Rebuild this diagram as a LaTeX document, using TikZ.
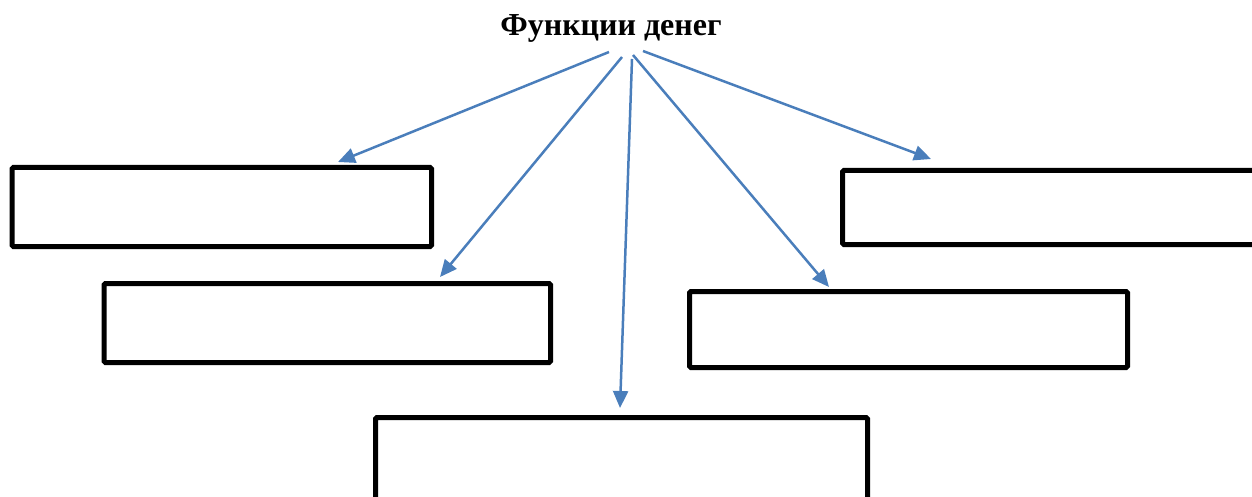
\documentclass[tikz,border=0pt]{standalone}
\usepackage{fontspec}
\setmainfont{Liberation Serif}
\usetikzlibrary{arrows.meta}
\definecolor{arrowblue}{RGB}{74,126,187}
\begin{document}
\begin{tikzpicture}[x=1pt,y=-1pt,
  box/.style={draw=black,line width=5pt,rounded corners=1.5pt,inner sep=0pt,fill=none},
  conn/.style={draw=arrowblue,line width=2.5pt,-{Triangle[length=17pt,width=15pt]}},
  title/.style={font=\bfseries\fontsize{32}{36}\selectfont,inner sep=0pt,anchor=base}]
\useasboundingbox (0,0) rectangle (1252,497);
\node[title] (t) at (611,36) {Функции денег};
\node[box,minimum width=419.5pt,minimum height=79pt] (b1) at (221.75,207) {};
\node[box,minimum width=446.5pt,minimum height=79pt] (b2) at (327.25,323) {};
\node[box,minimum width=492pt,minimum height=102.5pt] (b3) at (621.5,468.75) {};
\node[box,minimum width=438pt,minimum height=76pt] (b4) at (908.5,329.5) {};
\node[box,minimum width=427.5pt,minimum height=74pt] (b5) at (1056.25,207.5) {};
\coordinate (s1) at (609,52);
\coordinate (s2) at (622,57);
\coordinate (s3) at (632,59);
\coordinate (s4) at (633,55);
\coordinate (s5) at (643,51);
\coordinate (e1) at (338,162);
\coordinate (e2) at (440,277);
\coordinate (e3) at (620,408);
\coordinate (e4) at (829,287);
\coordinate (e5) at (931,159);
\draw[conn] (s1) -- (e1);
\draw[conn] (s2) -- (e2);
\draw[conn] (s3) -- (e3);
\draw[conn] (s4) -- (e4);
\draw[conn] (s5) -- (e5);
\end{tikzpicture}
\end{document}
